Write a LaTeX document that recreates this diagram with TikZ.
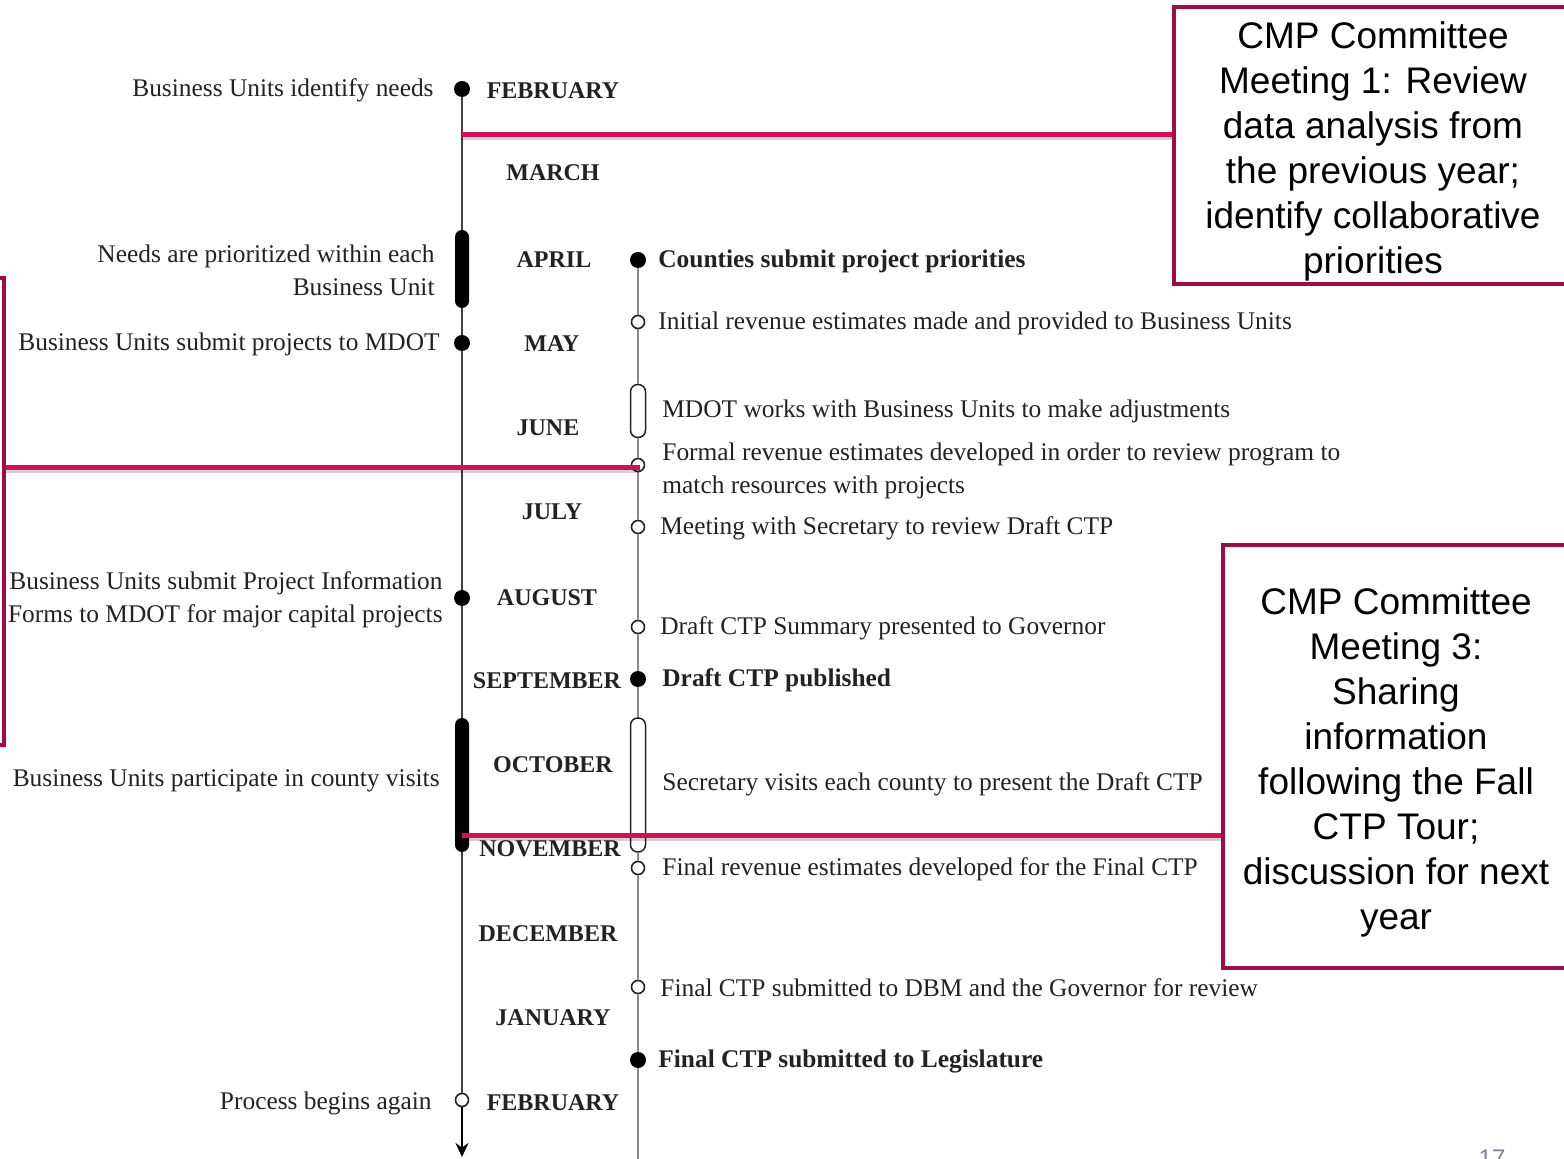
\documentclass[tikz,border=0pt]{standalone}
\usepackage{fontspec}
\setmainfont{Liberation Serif}
\newfontfamily\boxfont{Liberation Sans}
\usetikzlibrary{arrows.meta}
\definecolor{boxred}{RGB}{166,10,68}
\definecolor{linkred}{RGB}{214,14,86}
\definecolor{ink}{RGB}{34,34,34}
\definecolor{pagegray}{RGB}{120,130,145}
\begin{document}
\begin{tikzpicture}[x=0.5pt,y=-0.5pt,
  fdot/.style={circle,fill=black,inner sep=0pt,minimum size=8pt},
  odot/.style={circle,draw=ink,fill=white,line width=0.8pt,inner sep=0pt,minimum size=6.5pt},
  fbar/.style={rectangle,fill=black,rounded corners=3.5pt,minimum width=7pt,inner sep=0pt},
  obar/.style={rectangle,draw=ink,fill=white,rounded corners=3.6pt,minimum width=7.5pt,inner sep=0pt,line width=0.75pt},
  month/.style={font=\bfseries\fontsize{12}{14}\selectfont,text=ink,inner sep=0pt},
  lnote/.style={font=\fontsize{12.7}{16.5}\selectfont,text=ink,inner sep=0pt,anchor=east,align=right},
  rnote/.style={font=\fontsize{12.7}{16.5}\selectfont,text=ink,inner sep=0pt,anchor=west,align=left},
  bnote/.style={rnote,font=\bfseries\fontsize{12.7}{16.5}\selectfont},
  cmpbox/.style={draw=boxred,line width=2pt,fill=white,inner sep=0pt},
  cmptext/.style={align=center,inner sep=0pt,font=\boxfont\fontsize{18.5}{22.5}\selectfont},
  leftline/.style={draw=black!75,line width=0.6pt},
  rightline/.style={draw=black!45,line width=0.75pt},
  link/.style={draw=linkred,line width=2.5pt},
  linkshadow/.style={draw=black,opacity=0.18,line width=2.5pt}
]
\useasboundingbox (0,0) rectangle (1564,1159);

% ---- left (Business Units) timeline ----
\coordinate (lend) at (462,1157);
\node[fdot] (l1) at (462,89) {};
\node[fbar,minimum height=39pt] (l2) at (462,269) {};
\node[fdot] (l3) at (462,343) {};
\node[fdot] (l4) at (462,598) {};
\node[fbar,minimum height=67pt] (l5) at (462,785) {};
\node[odot] (l6) at (462,1100) {};
\draw[leftline] (l1) -- (l2) -- (l3) -- (l4) -- (l5) -- (l6);
\draw[black,line width=1pt,-{Stealth[length=7pt,width=6.5pt]}] (l6) -- (lend);

% ---- right (MDOT) timeline ----
\coordinate (rend) at (638,1165);
\node[fdot] (r1) at (638,260) {};
\node[odot] (r2) at (638,322) {};
\node[obar,minimum height=26.5pt] (r3) at (638,411) {};
\node[odot] (r4) at (638,465) {};
\node[odot] (r5) at (638,527) {};
\node[odot] (r6) at (638,627) {};
\node[fdot] (r7) at (638,679) {};
\node[obar,minimum height=67pt] (r8) at (638,785) {};
\node[odot] (r9) at (638,868) {};
\node[odot] (r10) at (638,987) {};
\node[fdot] (r11) at (638,1060) {};
\draw[rightline] (r1) -- (r2) -- (r3) -- (r4) -- (r5) -- (r6) -- (r7) -- (r8) -- (r9) -- (r10) -- (r11) -- (rend);

% ---- months ----
\node[month] (m1)  at (553,91)   {FEBRUARY};
\node[month] (m2)  at (553,173)  {MARCH};
\node[month] (m3)  at (554,260)  {APRIL};
\node[month] (m4)  at (552,344)  {MAY};
\node[month] (m5)  at (548,428)  {JUNE};
\node[month] (m6)  at (552,512)  {JULY};
\node[month] (m7)  at (547,598)  {AUGUST};
\node[month] (m8)  at (547,681)  {SEPTEMBER};
\node[month] (m9)  at (553,765)  {OCTOBER};
\node[month] (m10) at (550,849)  {NOVEMBER};
\node[month] (m11) at (548,934)  {DECEMBER};
\node[month] (m12) at (553,1018) {JANUARY};
\node[month] (m13) at (553,1103) {FEBRUARY};

% ---- Business Unit activities ----
\node[lnote] (a1) at (434,90)   {Business Units identify needs};
\node[lnote] (a2) at (435,270)  {Needs are prioritized within each\\Business Unit};
\node[lnote] (a3) at (440,344)  {Business Units submit projects to MDOT};
\node[lnote] (a4) at (443,600)  {Business Units submit Project Information\\Forms to MDOT for major capital projects};
\node[lnote] (a5) at (440,781)  {Business Units participate in county visits};
\node[lnote] (a6) at (432,1103) {Process begins again};

% ---- MDOT activities ----
\node[bnote] (b1)  at (658,261)  {Counties submit project priorities};
\node[rnote] (b2)  at (658,323)  {Initial revenue estimates made and provided to Business Units};
\node[rnote] (b3)  at (662,411)  {MDOT works with Business Units to make adjustments};
\node[rnote] (b4)  at (662,471)  {Formal revenue estimates developed in order to review program to\\match resources with projects};
\node[rnote] (b5)  at (660,528)  {Meeting with Secretary to review Draft CTP};
\node[rnote] (b6)  at (660,628)  {Draft CTP Summary presented to Governor};
\node[bnote] (b7)  at (662,680)  {Draft CTP published};
\node[rnote] (b8)  at (662,784)  {Secretary visits each county to present the Draft CTP};
\node[rnote] (b9)  at (662,869)  {Final revenue estimates developed for the Final CTP};
\node[rnote] (b10) at (660,988)  {Final CTP submitted to DBM and the Governor for review};
\node[bnote] (b11) at (658,1061) {Final CTP submitted to Legislature};

% ---- committee meetings ----
\node[cmpbox,minimum width=200pt,minimum height=138.5pt] (box1) at (1374,145.5) {};
\node[cmptext] (box1text) at (1373,151)
  {CMP Committee\\Meeting 1: Review\\data analysis from\\the previous year;\\identify collaborative\\priorities};
\node[cmpbox,minimum width=22pt,minimum height=233.5pt] (box2) at (-18,511.5) {};
\node[cmpbox,minimum width=174pt,minimum height=211.5pt] (box3) at (1397,756.5) {};
\node[cmptext] (box3text) at (1396,762)
  {CMP Committee\\Meeting 3:\\Sharing\\information\\following the Fall\\CTP Tour;\\discussion for next\\year};

% ---- links from the timeline to the meetings ----
\coordinate (k1) at (462,135);
\coordinate (k2) at (640,468);
\coordinate (k3) at (462,836);
\draw[linkshadow] ([yshift=-1.5pt]k1) -- ([yshift=-1.5pt]k1 -| box1.west);
\draw[linkshadow] ([yshift=-1.5pt]k2 -| box2.east) -- ([yshift=-1.5pt]k2);
\draw[linkshadow] ([yshift=-1.5pt]k3) -- ([yshift=-1.5pt]k3 -| box3.west);
\draw[link] (k1) -- (k1 -| box1.west);
\draw[link] (k2 -| box2.east) -- (k2);
\draw[link] (k3) -- (k3 -| box3.west);

% ---- page number ----
\node[font=\boxfont\fontsize{12}{14}\selectfont,text=pagegray,anchor=north,inner sep=0pt] (pg) at (1492,1150) {17};
\end{tikzpicture}
\end{document}
